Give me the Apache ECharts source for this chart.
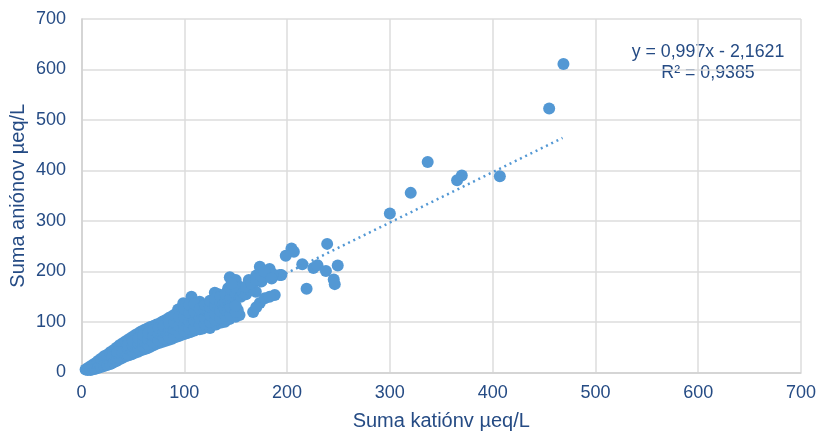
<!DOCTYPE html>
<html><head><meta charset="utf-8">
<style>html,body{margin:0;padding:0;background:#fff}#c{width:818px;height:432px}</style>
<script src="https://cdn.jsdelivr.net/npm/echarts@6/dist/echarts.min.js"></script>
</head><body><div id="c"></div>
<script>
const xTitle = 'Suma katiónv µeq/L';
const yTitle = 'Suma aniónov µeq/L';
const equationLines = ['y = 0,997x - 2,1621', 'R² = 0,9385'];
const outliers = [[468.9,611],[455,522.6],[336.8,417],[320.3,355.7],[370,390],[365.4,380.7],[407,388.6],[300,314.8],[239,254.7],[204.3,245.5],[206.6,239],[198.7,231],[214.8,214.5],[225.6,207],[229.6,212.5],[237.8,201],[249.3,212],[245.4,184],[246.4,175],[219,165.7],[194.4,193]];
const upperLow = [[4,6],[7,10],[10,14],[13,18],[16,23],[19,27],[22,32],[25,35],[28,40],[31,44],[34,49],[37,54],[40,58],[43,62],[46,66],[49,70],[52,74],[55,77],[58,81],[61,84],[64,87],[67,90],[70,92],[73,95],[76,97],[79,101],[82,104],[85,108]];
const lowerLow = [[6,5],[9,5],[13,7],[16,9],[19,11],[22,13],[25,15],[28,17],[31,20],[34,23],[37,26],[40,29],[43,32],[46,34],[49,36],[52,39],[55,41],[58,44],[61,46],[64,48],[67,51],[70,54],[73,57],[76,59],[79,61],[82,63],[85,65],[88,67],[91,70],[94,72],[97,74],[100,76],[103,78],[106,80],[110,83]];
const upperEdge = [[87.4,110.5],[94,125],[99,137],[107,150],[115,140],[129.7,158],[133,155],[142.7,166.7],[144.3,188.5],[150,183],[162.8,183],[173.5,209.6],[183,205],[192.9,193],[175,180],[169.6,160],[180,192],[186,195],[154,170],[167,177],[170,192]];
const lowerEdge = [[115,85.5],[118,87],[125,88],[123,91],[131,95],[136,99],[139.5,100.6],[144,106],[150,110.5],[153.7,113.8],[152,124],[167,120],[173.5,137.5],[178.3,147],[188,153.5],[170,129],[183,150]];
const cloudA = [[30,30],[35,30],[35,40],[40,40],[45,36],[45,46],[45,54],[50,42],[50,52],[50,62],[55,48],[55,58],[55,68],[60,52],[60,62],[60,74],[65,56],[65,66],[65,78],[70,60],[70,72],[70,84],[75,64],[75,76],[75,88],[80,68],[80,80],[80,92]];
const cloudB = [[85,70],[85,84],[85,98],[90,74],[90,86],[90,100],[90,114],[95,78],[95,92],[95,110],[100,82],[100,94],[100,110],[100,126],[105,86],[105,100],[105,118],[105,134],[110,88],[110,102],[110,120],[110,136],[115,94],[115,108],[115,126],[120,96],[120,108],[120,124],[120,134],[125,100],[125,114],[125,130],[125,142],[130,104],[130,116],[130,132],[130,146],[135,108],[135,122],[135,138],[135,150]];
const cloudC = [[140,112],[140,124],[137.5,133.6],[140,140],[140,156],[145,114],[145,130],[149,143.5],[145,148],[145,166],[150,120],[150,132],[150,156],[150,168],[155,150],[157,157],[160,155],[163.7,163],[160,170],[165,176],[170,184],[175,190],[178,200],[185,186],[146,176]];
const trendX = [6, 468];
const slope = 0.997, intercept = -2.1621;
const axisTicks = [0,100,200,300,400,500,600,700];
const textColor = '#254b84', gridColor = '#dcdcdc', markColor = '#5398d4';
const font = '"Liberation Sans", Arial, sans-serif';

const chart = echarts.init(document.getElementById('c'));
const ax = (name, gap, margin) => ({
  type:'value', min:axisTicks[0], max:axisTicks[axisTicks.length-1], interval:100,
  name, nameLocation:'middle', nameGap:gap, nameMoveOverlap:false,
  nameTextStyle:{color:textColor,fontSize:20,fontFamily:font},
  axisLine:{show:true,lineStyle:{color:'#d0d0d0',width:1.5}},
  axisTick:{show:false},
  axisLabel:{color:textColor,fontSize:18,fontFamily:font,margin},
  splitLine:{show:true,lineStyle:{color:gridColor,width:1.5}}
});
chart.setOption({
  animation:false,
  grid:{left:81.5,right:17,top:19,bottom:59.5,outerBoundsMode:'none'},
  xAxis:ax(xTitle,38.5,11.5),
  yAxis:ax(yTitle,53,15.5),
  series:[
    {type:'scatter',symbolSize:12,itemStyle:{color:markColor,opacity:1},
     data:[].concat(outliers,upperLow,lowerLow,upperEdge,lowerEdge,cloudA,cloudB,cloudC)},
    {type:'line',showSymbol:false,silent:true,z:3,
     data:trendX.map(x=>[x,slope*x+intercept]),
     lineStyle:{color:markColor,width:2.5,type:[2,3.8]}}
  ],
  graphic:[{type:'text',x:708,y:41.5,style:{text:equationLines.join('\n'),
    fill:textColor,font:'17.8px '+font,align:'center',lineHeight:21}}]
});
</script></body></html>
